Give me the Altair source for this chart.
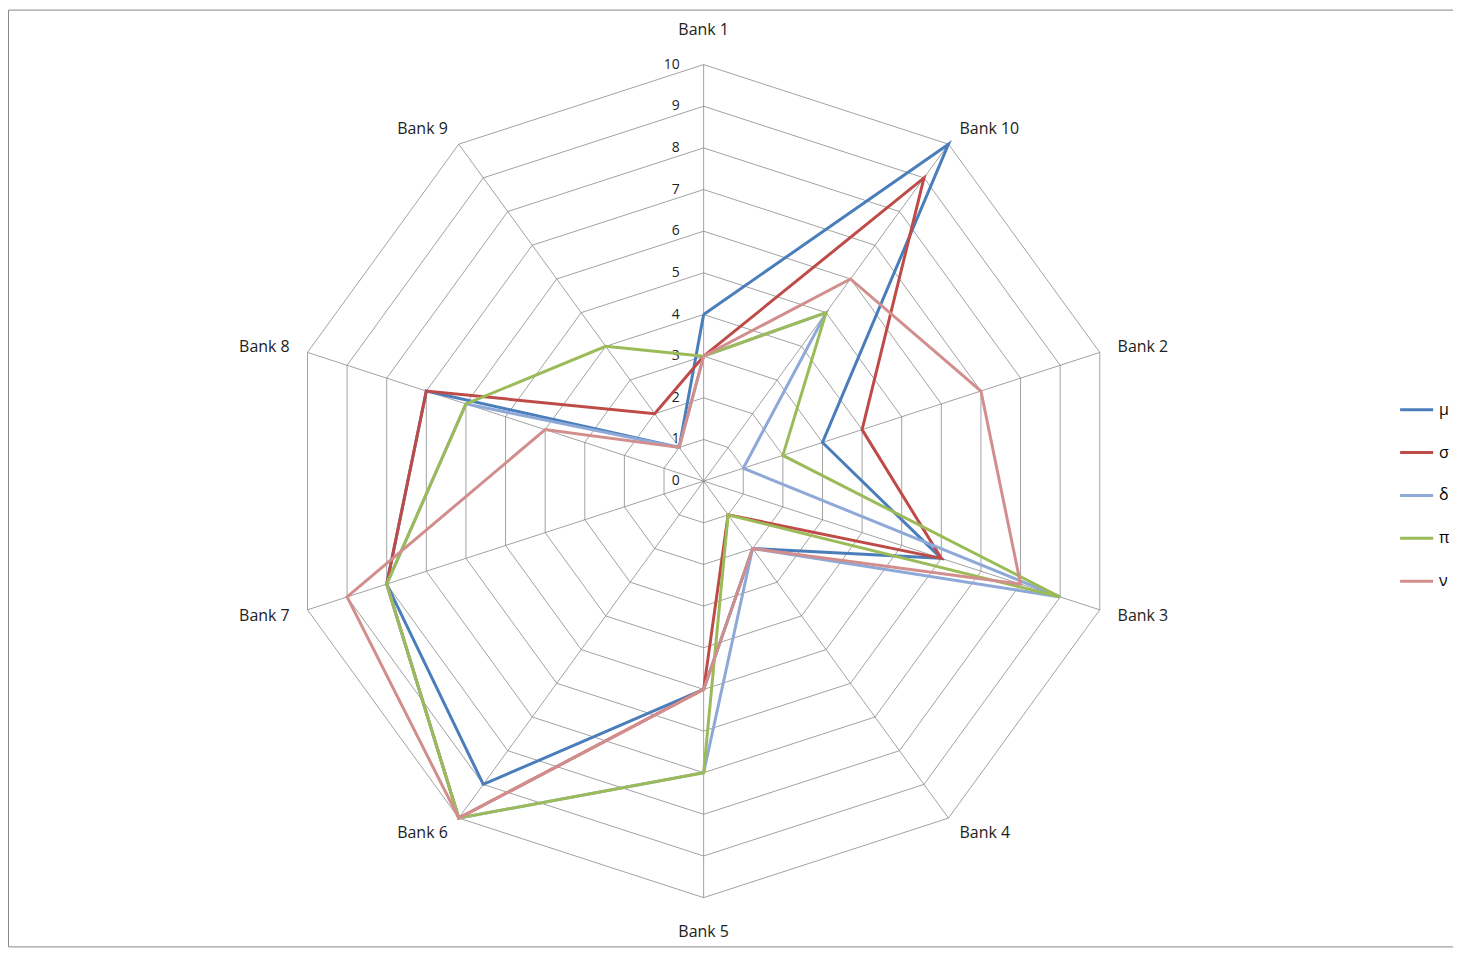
import pandas as pd
import altair as alt

banks = ["Bank 1", "Bank 10", "Bank 2", "Bank 3", "Bank 4",
         "Bank 5", "Bank 6", "Bank 7", "Bank 8", "Bank 9"]
series = ["μ", "σ", "δ", "π", "ν"]
mu = [4, 10, 3, 6, 2, 5, 9, 8, 7, 1]
sigma = [3, 9, 4, 6, 1, 5, 10, 8, 7, 2]
delta = [3, 5, 1, 9, 2, 7, 10, 8, 6, 1]
pi_ = [3, 5, 2, 9, 1, 7, 10, 8, 6, 4]
nu = [3, 6, 7, 8, 2, 5, 10, 9, 4, 1]
ticks = list(range(0, 11))
colors = ["#4A7EBB", "#BE4B48", "#8EA9D8", "#9BBB59", "#D28E8D"]

FONT = "Open Sans"
n = len(banks)
values = [mu, sigma, delta, pi_, nu]

rows = []
for s, vals in zip(series, values):
    for i in range(n + 1):
        rows.append({"series": s, "idx": i, "value": vals[i % n]})
lines_df = pd.DataFrame(rows)

grid_rows = []
for t in ticks[1:]:
    for i in range(n + 1):
        grid_rows.append({"ring": t, "idx": i, "value": t})
grid_df = pd.DataFrame(grid_rows)

spoke_df = pd.DataFrame({"idx": list(range(n)), "value": [10] * n})
label_df = pd.DataFrame({"bank": banks, "idx": list(range(n)), "value": [10.45] * n})
tick_df = pd.DataFrame({"t": ticks})

xs = alt.Scale(domain=[-16.7, 17.99], nice=False, zero=False)
ys = alt.Scale(domain=[-11.17, 11.32], nice=False, zero=False)
ang = "datum.idx * 2 * PI / %d" % n


def polar(chart):
    return chart.transform_calculate(
        px="datum.value * sin(" + ang + ")",
        py="datum.value * cos(" + ang + ")")


X = alt.X("px:Q", scale=xs, axis=None)
Y = alt.Y("py:Q", scale=ys, axis=None)

grid = polar(alt.Chart(grid_df)).mark_line(color="#8A8A8A", strokeWidth=0.8).encode(
    x=X, y=Y, detail="ring:N", order="idx:Q")

spokes = polar(alt.Chart(spoke_df)).mark_rule(color="#8A8A8A", strokeWidth=0.8).encode(
    x=X, y=Y, x2=alt.X2(datum=0), y2=alt.Y2(datum=0))

lines = polar(alt.Chart(lines_df)).mark_line(strokeWidth=3).encode(
    x=X, y=Y, order="idx:Q",
    color=alt.Color("series:N", sort=series,
                    scale=alt.Scale(domain=series, range=colors),
                    legend=alt.Legend(title=None, orient="none", legendX=1395, legendY=383,
                                      symbolType="stroke", symbolStrokeWidth=3, symbolSize=1100,
                                      labelFontSize=16, labelFont=FONT, rowPadding=16)))


def labels(cond, align, baseline, dy=0):
    return polar(alt.Chart(label_df)).transform_filter(cond).mark_text(
        align=align, baseline=baseline, dy=dy, font=FONT, fontSize=16, color="#222222").encode(
        x=X, y=Y, text="bank:N")


lab_l = labels("sin(" + ang + ") > 0.1", "left", "middle")
lab_r = labels("sin(" + ang + ") < -0.1", "right", "middle")
lab_t = labels("datum.idx == 0", "center", "middle", -16)
lab_b = labels("datum.idx == 5", "center", "middle", 16)

tick_text = alt.Chart(tick_df).mark_text(
    align="right", baseline="middle", dx=-24, font=FONT, fontSize=14, color="#222222").encode(
    x=alt.X("z:Q", scale=xs, axis=None), y=alt.Y("t:Q", scale=ys, axis=None),
    text="t:Q").transform_calculate(z="0")

chart = alt.layer(grid, spokes, tick_text, lines, lab_l, lab_r, lab_t, lab_b).properties(
    width=1450, height=940, padding=0).configure_view(stroke="#888888")

chart.save("out.html", embed_options={"renderer": "svg", "actions": False})
